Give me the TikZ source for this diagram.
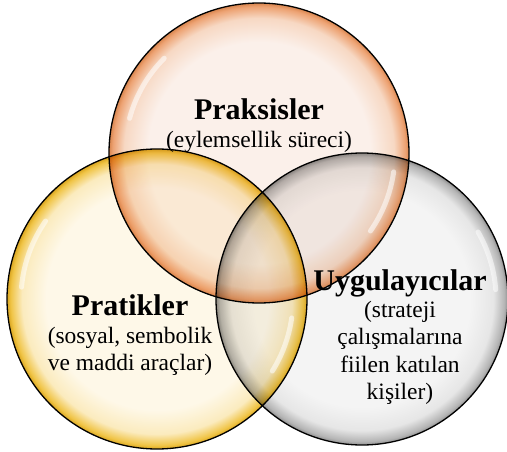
\documentclass[tikz,border=0pt]{standalone}
\usepackage{fontspec}
\setmainfont{Liberation Serif}
\usetikzlibrary{calc}
\definecolor{oC}{HTML}{FBF0EA}
\definecolor{oM}{HTML}{F7D8C3}
\definecolor{oE}{HTML}{EDA272}
\definecolor{oD}{HTML}{D8854E}
\definecolor{yC}{HTML}{FEF8E8}
\definecolor{yM}{HTML}{FBEBBE}
\definecolor{yE}{HTML}{F0C445}
\definecolor{yD}{HTML}{D9A520}
\definecolor{gC}{HTML}{F4F4F4}
\definecolor{gM}{HTML}{E6E6E6}
\definecolor{gE}{HTML}{B4B4B4}
\definecolor{gD}{HTML}{8C8C8C}
\pgfdeclareradialshading{topglass}{\pgfpoint{0bp}{0bp}}{color(0bp)=(oC); color(18.5bp)=(oC); color(22.5bp)=(oM); color(24.4bp)=(oE); color(25bp)=(oD); color(50bp)=(oD)}
\pgfdeclareradialshading{leftglass}{\pgfpoint{0bp}{0bp}}{color(0bp)=(yC); color(18.5bp)=(yC); color(22.5bp)=(yM); color(24.4bp)=(yE); color(25bp)=(yD); color(50bp)=(yD)}
\pgfdeclareradialshading{rightglass}{\pgfpoint{0bp}{0bp}}{color(0bp)=(gC); color(18.5bp)=(gC); color(22.5bp)=(gM); color(24.4bp)=(gE); color(25bp)=(gD); color(50bp)=(gD)}
\begin{document}
\begin{tikzpicture}[x=1pt,y=-1pt,
  ring/.style={draw=black, line width=1.3pt},
  gloss/.style={draw=white, line width=5pt, line cap=round, draw opacity=0.55},
  lbl/.style={inner sep=0pt, anchor=base, font=\fontsize{23.5}{27.5}\selectfont}]
\useasboundingbox (0,0) rectangle (507,452);
\coordinate (ct) at (259,153);
\coordinate (cl) at (157,299);
\coordinate (cr) at (362,299);
\begin{scope}[blend mode=multiply]
  \path[shading=leftglass] (cl) circle (150);
  \path[shading=rightglass] (cr) circle (146);
  \path[shading=topglass] (ct) circle (150);
\end{scope}
% glossy highlights
\draw[gloss] ($(ct)+(195:134)$) arc[start angle=195, end angle=225, radius=134];
\draw[gloss] ($(ct)+(8:136)$) arc[start angle=8, end angle=35, radius=136];
\draw[gloss] ($(cl)+(185:136)$) arc[start angle=185, end angle=215, radius=136];
\draw[gloss] ($(cl)+(8:136)$) arc[start angle=8, end angle=32, radius=136];
\draw[gloss] ($(cr)+(330:134)$) arc[start angle=330, end angle=356, radius=134];
% outlines
\draw[ring] (cl) circle (150);
\draw[ring] (cr) circle (146);
\draw[ring] (ct) circle (150);
% labels
\node[lbl] (prax) at (259,120) {\begin{tabular}[t]{@{}c@{}}\fontsize{30}{27.5}\selectfont\bfseries Praksisler\\(eylemsellik süreci)\end{tabular}};
\node[lbl] (prat) at (130,316) {\begin{tabular}[t]{@{}c@{}}\fontsize{30}{27.5}\selectfont\bfseries Pratikler\\(sosyal, sembolik\\ve maddi araçlar)\end{tabular}};
\node[lbl] (uyg) at (400,290) {\begin{tabular}[t]{@{}c@{}}\fontsize{30}{27.5}\selectfont\bfseries Uygulayıcılar\\(strateji\\çalışmalarına\\fiilen katılan\\kişiler)\end{tabular}};
\end{tikzpicture}
\end{document}
